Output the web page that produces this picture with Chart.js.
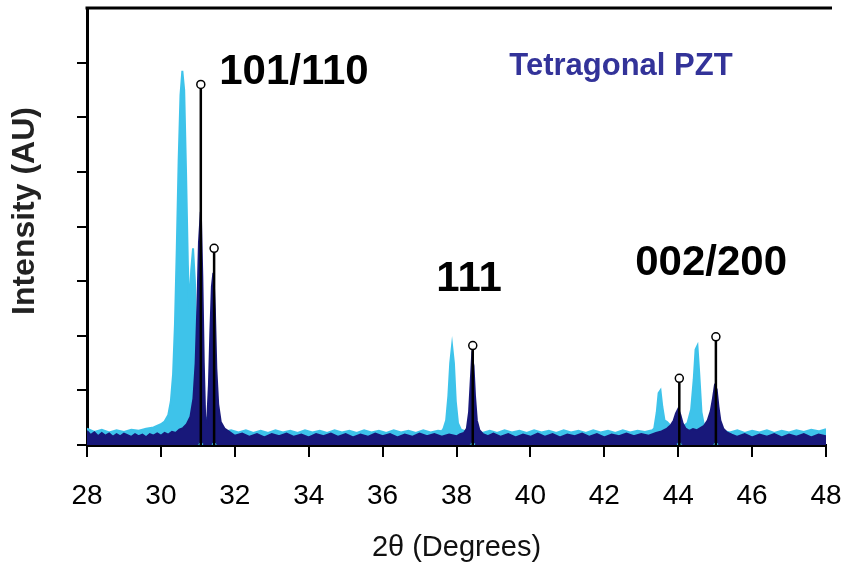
<!DOCTYPE html>
<html>
<head>
<meta charset="utf-8">
<script src="https://cdn.jsdelivr.net/npm/chart.js@4.4.1/dist/chart.umd.min.js"></script>
<style>
  body { margin: 0; background: #fff; }
  canvas { display: block; }
</style>
</head>
<body>
<canvas id="xrd" width="842" height="566"></canvas>
<script>
// 2-theta ticks
const xTickValues = [28, 30, 32, 34, 36, 38, 40, 42, 44, 46, 48];

// dark navy trace [2theta, intensity]
const navyTrace = [
  [28.0,0.26],[28.1,0.18],[28.2,0.23],[28.3,0.16],[28.4,0.22],[28.5,0.17],[28.6,0.21],[28.7,0.15],
  [28.8,0.2],[28.9,0.16],[29.0,0.21],[29.2,0.15],[29.3,0.2],[29.4,0.16],[29.5,0.19],[29.6,0.14],
  [29.7,0.2],[29.8,0.17],[29.9,0.21],[30.0,0.17],[30.1,0.22],[30.2,0.19],[30.3,0.24],[30.4,0.22],
  [30.5,0.28],[30.6,0.31],[30.7,0.38],[30.8,0.52],[30.88,0.85],[30.94,1.5],[30.99,2.6],[31.03,3.7],
  [31.08,4.27],[31.12,3.1],[31.16,1.5],[31.2,0.45],[31.25,0.4],[31.3,1.1],[31.34,2.1],[31.38,2.9],
  [31.42,3.15],[31.46,2.5],[31.5,1.4],[31.55,0.75],[31.62,0.42],[31.72,0.3],[31.85,0.24],[32.0,0.17],
  [32.2,0.21],[32.4,0.15],[32.6,0.2],[32.8,0.14],[33.0,0.2],[33.2,0.16],[33.4,0.21],[33.6,0.15],
  [33.8,0.19],[34.0,0.14],[34.2,0.2],[34.4,0.16],[34.6,0.21],[34.8,0.15],[35.0,0.2],[35.2,0.14],
  [35.4,0.19],[35.6,0.15],[35.8,0.21],[36.0,0.16],[36.2,0.2],[36.4,0.14],[36.6,0.19],[36.8,0.15],
  [37.0,0.21],[37.2,0.16],[37.4,0.2],[37.6,0.15],[37.8,0.19],[38.0,0.16],[38.1,0.2],[38.2,0.22],
  [38.28,0.3],[38.34,0.6],[38.38,1.1],[38.42,1.6],[38.46,1.45],[38.5,0.9],[38.55,0.45],[38.62,0.27],
  [38.72,0.2],[38.85,0.16],[39.0,0.21],[39.2,0.15],[39.4,0.2],[39.6,0.14],[39.8,0.19],[40.0,0.15],
  [40.2,0.21],[40.4,0.15],[40.6,0.2],[40.8,0.14],[41.0,0.19],[41.2,0.16],[41.4,0.21],[41.6,0.15],
  [41.8,0.2],[42.0,0.14],[42.2,0.19],[42.4,0.16],[42.6,0.21],[42.8,0.16],[43.0,0.2],[43.2,0.17],
  [43.4,0.22],[43.55,0.25],[43.7,0.3],[43.8,0.36],[43.88,0.45],[43.94,0.58],[44.0,0.66],[44.06,0.55],
  [44.12,0.4],[44.2,0.3],[44.3,0.26],[44.4,0.29],[44.5,0.27],[44.6,0.31],[44.7,0.35],[44.8,0.45],
  [44.88,0.62],[44.94,0.85],[44.99,1.08],[45.04,1.02],[45.09,0.7],[45.14,0.45],[45.22,0.3],[45.32,0.23],
  [45.45,0.19],[45.6,0.15],[45.8,0.2],[46.0,0.14],[46.2,0.19],[46.4,0.15],[46.6,0.2],[46.8,0.14],
  [47.0,0.19],[47.2,0.15],[47.4,0.2],[47.6,0.14],[47.8,0.19],[48.0,0.16]
];

// light blue trace [2theta, intensity]
const cyanTrace = [
  [28.0,0.3],[28.2,0.24],[28.4,0.28],[28.6,0.23],[28.8,0.27],[29.0,0.24],[29.2,0.28],[29.4,0.26],
  [29.6,0.3],[29.8,0.32],[30.0,0.38],[30.1,0.43],[30.2,0.55],[30.27,0.8],[30.33,1.3],[30.38,2.2],
  [30.43,3.6],[30.48,5.2],[30.53,6.4],[30.58,6.85],[30.63,6.5],[30.68,5.0],[30.73,3.3],[30.77,2.5],
  [30.82,3.2],[30.87,3.6],[30.92,3.0],[30.97,1.6],[31.02,0.8],[31.08,0.55],[31.15,0.5],[31.25,0.5],
  [31.35,0.42],[31.45,0.35],[31.55,0.28],[31.7,0.24],[31.9,0.27],[32.1,0.23],[32.3,0.27],[32.5,0.22],
  [32.7,0.26],[32.9,0.22],[33.1,0.27],[33.3,0.23],[33.5,0.26],[33.7,0.22],[33.9,0.27],[34.1,0.23],
  [34.3,0.26],[34.5,0.22],[34.7,0.27],[34.9,0.23],[35.1,0.26],[35.3,0.22],[35.5,0.27],[35.7,0.23],
  [35.9,0.26],[36.1,0.22],[36.3,0.27],[36.5,0.23],[36.7,0.26],[36.9,0.22],[37.1,0.27],[37.3,0.23],
  [37.5,0.26],[37.6,0.25],[37.65,0.3],[37.72,0.45],[37.78,0.9],[37.83,1.5],[37.88,1.82],[37.93,1.5],
  [37.98,0.8],[38.04,0.4],[38.12,0.28],[38.3,0.24],[38.5,0.27],[38.7,0.22],[38.9,0.26],[39.1,0.22],
  [39.3,0.27],[39.5,0.23],[39.7,0.26],[39.9,0.22],[40.1,0.27],[40.3,0.23],[40.5,0.26],[40.7,0.22],
  [40.9,0.27],[41.1,0.23],[41.3,0.26],[41.5,0.22],[41.7,0.27],[41.9,0.23],[42.1,0.26],[42.3,0.22],
  [42.5,0.27],[42.7,0.23],[42.9,0.26],[43.1,0.24],[43.3,0.27],[43.35,0.3],[43.42,0.6],[43.47,0.95],
  [43.52,1.0],[43.57,0.7],[43.63,0.45],[43.7,0.42],[43.8,0.35],[43.9,0.3],[44.1,0.32],[44.25,0.4],
  [44.35,0.65],[44.42,1.2],[44.47,1.75],[44.52,1.82],[44.57,1.3],[44.63,0.6],[44.7,0.35],[44.8,0.28],
  [45.0,0.3],[45.2,0.26],[45.4,0.23],[45.6,0.27],[45.8,0.22],[46.0,0.26],[46.2,0.23],[46.4,0.27],
  [46.6,0.22],[46.8,0.26],[47.0,0.23],[47.2,0.27],[47.4,0.24],[47.6,0.28],[47.8,0.25],[48.0,0.29]
];

// reference stick pattern
const stickX = [31.08, 31.44, 38.44, 44.03, 45.02];
const stickY = [6.6, 3.6, 1.82, 1.22, 1.98];

// peak labels
const peakLabels = ['101/110', '111', '002/200'];
const peakLabelX = [33.6, 38.34, 44.89];
const peakLabelY = [6.82, 3.04, 3.33];

const NAVY = '#18187a';
const CYAN = '#3ec3ea';
const FONT = '"Liberation Sans", Arial, sans-serif';

const toPts = arr => arr.map(p => ({ x: p[0], y: p[1] }));

const stickPts = [];
stickX.forEach((x, i) => {
  stickPts.push({ x: x, y: 0 }, { x: x, y: stickY[i] }, { x: x, y: null });
});

const annotate = {
  id: 'annotate',
  afterDraw(chart) {
    const { ctx, chartArea, scales } = chart;
    const xs = scales.x, ys = scales.y;
    ctx.save();
    // top frame line
    ctx.strokeStyle = '#000';
    ctx.lineWidth = 3;
    ctx.beginPath();
    ctx.moveTo(chartArea.left - 1.5, chartArea.top);
    ctx.lineTo(chartArea.right + 6, chartArea.top);
    ctx.stroke();

    ctx.textAlign = 'center';
    ctx.textBaseline = 'middle';
    ctx.fillStyle = '#000';
    ctx.font = 'bold 42px ' + FONT;
    peakLabels.forEach((t, i) => {
      ctx.fillText(t, xs.getPixelForValue(peakLabelX[i]), ys.getPixelForValue(peakLabelY[i]));
    });
    ctx.fillStyle = '#333399';
    ctx.font = 'bold 31px ' + FONT;
    ctx.fillText('Tetragonal PZT', xs.getPixelForValue(42.45), ys.getPixelForValue(6.93));

    // y axis title
    ctx.translate(25, 211);
    ctx.rotate(-Math.PI / 2);
    ctx.fillStyle = '#222';
    ctx.font = 'bold 32px ' + FONT;
    ctx.fillText('Intensity (AU)', 0, 0);
    ctx.restore();
  }
};

new Chart(document.getElementById('xrd'), {
  type: 'scatter',
  data: {
    datasets: [
      {
        label: 'Reference',
        data: stickPts,
        showLine: true,
        spanGaps: false,
        borderColor: '#000',
        borderWidth: 2.5,
        pointRadius: c => (c.raw && c.raw.y > 0 ? 4 : 0),
        pointBackgroundColor: '#fff',
        pointBorderColor: '#000',
        pointBorderWidth: 1.5
      },
      {
        label: 'Reference base',
        data: stickX.map(x => ({ x: x, y: 0 })),
        showLine: false,
        pointRadius: 3,
        pointBackgroundColor: CYAN,
        pointBorderColor: NAVY,
        pointBorderWidth: 1
      },
      {
        label: 'Sample B',
        data: toPts(navyTrace),
        showLine: true,
        borderColor: NAVY,
        backgroundColor: NAVY,
        borderWidth: 2,
        pointRadius: 0,
        tension: 0,
        fill: 'origin'
      },
      {
        label: 'Sample A',
        data: toPts(cyanTrace),
        showLine: true,
        borderColor: CYAN,
        backgroundColor: CYAN,
        borderWidth: 2,
        pointRadius: 0,
        tension: 0,
        fill: 'origin'
      }
    ]
  },
  options: {
    responsive: false,
    animation: false,
    devicePixelRatio: 1,
    layout: { padding: { top: 8, right: 16, left: 0, bottom: 0 } },
    plugins: {
      legend: { display: false },
      tooltip: { enabled: false }
    },
    scales: {
      x: {
        type: 'linear',
        min: 28,
        max: 48,
        afterBuildTicks: s => { s.ticks = xTickValues.map(v => ({ value: v })); },
        afterFit: s => { s.height = 121; s.paddingLeft = 0; s.paddingRight = 0; },
        border: { display: true, color: '#000', width: 3 },
        grid: { drawOnChartArea: false, drawTicks: true, tickLength: 12, color: '#000', lineWidth: 2 },
        ticks: {
          autoSkip: false,
          maxRotation: 0,
          padding: 22,
          color: '#000',
          font: { family: FONT, size: 28 }
        },
        title: {
          display: true,
          text: '2θ (Degrees)',
          color: '#111',
          padding: { top: 0, bottom: 1 },
          font: { family: FONT, size: 29 }
        }
      },
      y: {
        min: 0,
        max: 8,
        afterFit: s => { s.width = 87; s.paddingTop = 0; s.paddingBottom = 0; },
        border: { display: true, color: '#000', width: 3 },
        grid: {
          drawOnChartArea: false,
          drawTicks: true,
          tickLength: 10,
          lineWidth: 2,
          color: c => (c.tick && c.tick.value === 8 ? 'rgba(0,0,0,0)' : '#000')
        },
        ticks: { stepSize: 1, display: false },
        title: { display: false }
      }
    }
  },
  plugins: [annotate]
});
</script>
</body>
</html>
